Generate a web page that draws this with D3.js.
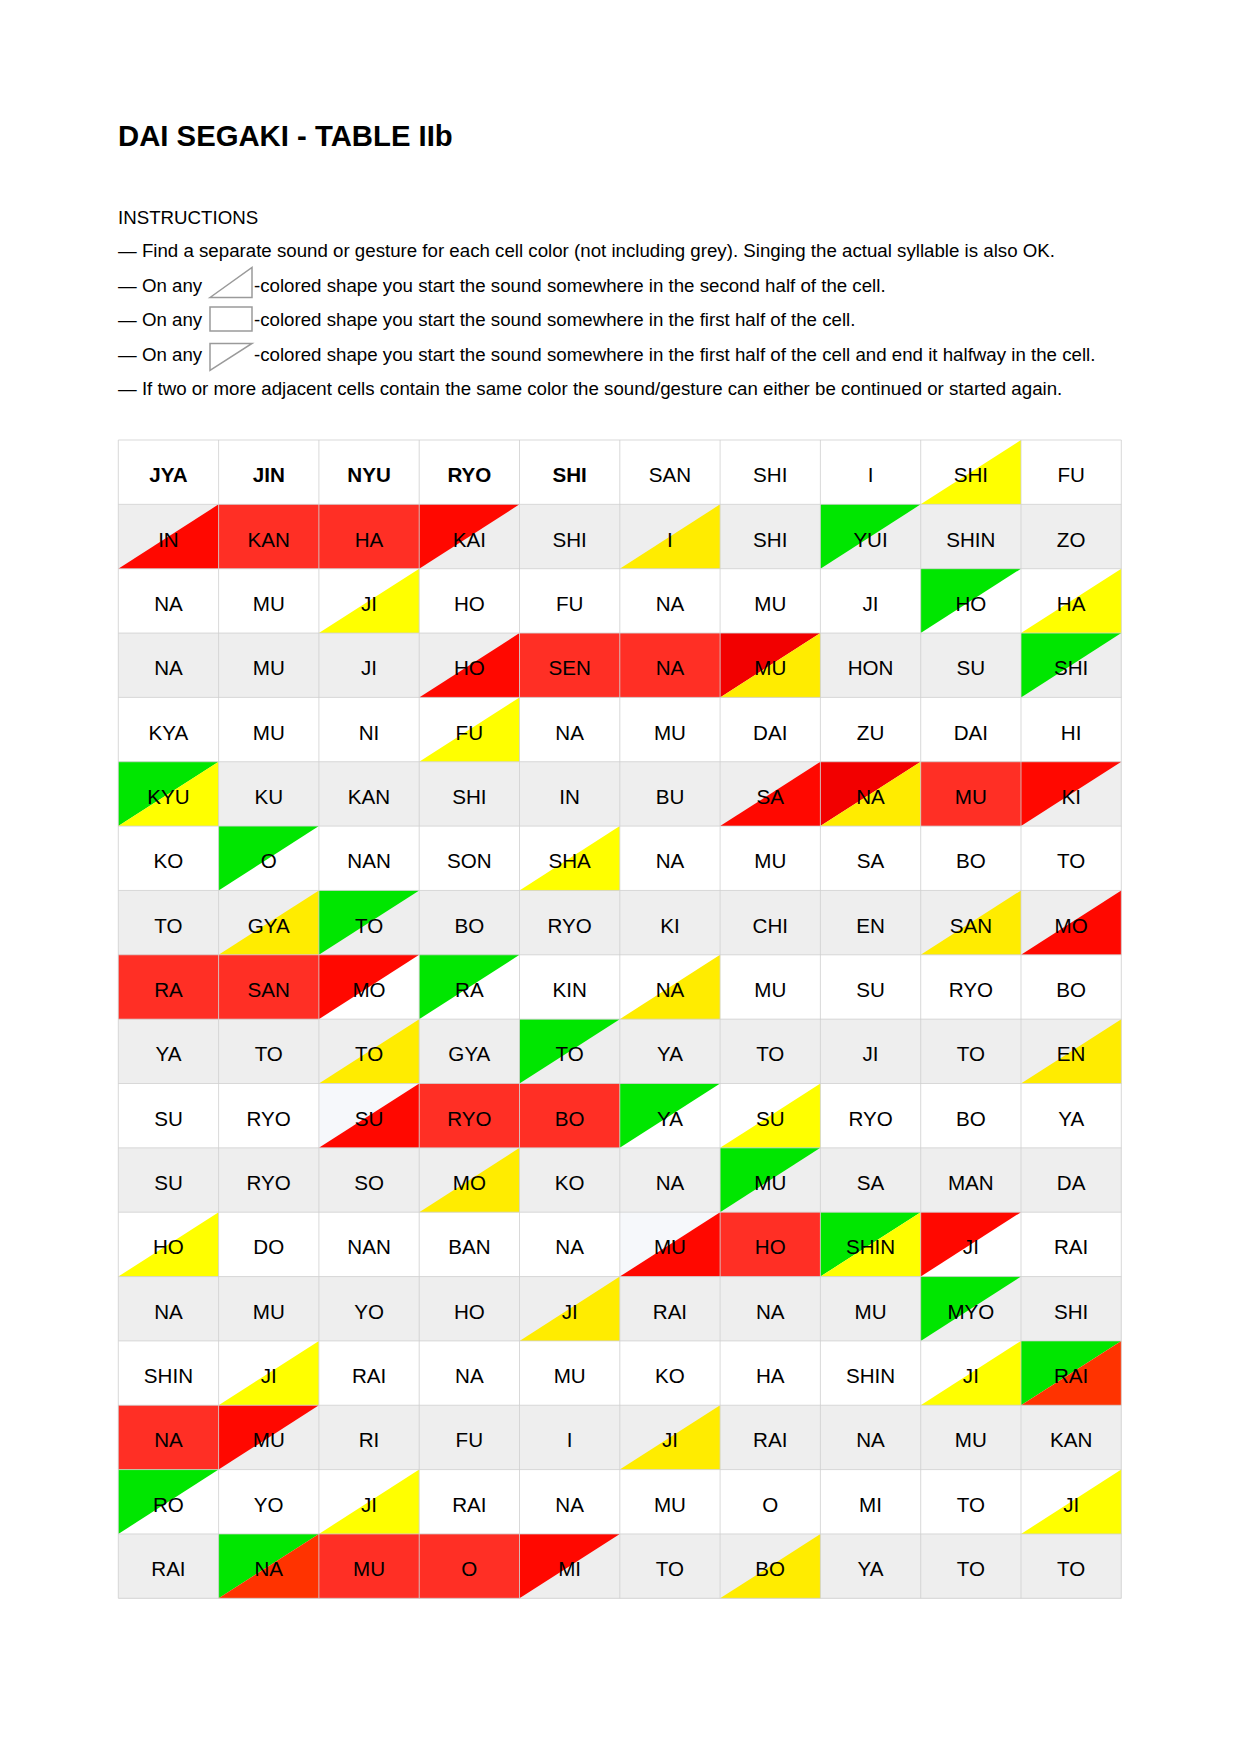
<!DOCTYPE html>
<html>
<head>
<meta charset="utf-8">
<script src="https://cdn.jsdelivr.net/npm/d3@7"></script>
<style>
  html, body { margin: 0; padding: 0; background: #fff; }
  svg { display: block; }
  text { font-family: "Liberation Sans", Arial, Helvetica, sans-serif; }
</style>
</head>
<body>
<script>
// ---------- DATA ----------
const title = "DAI SEGAKI - TABLE IIb";
const instructionsHeading = "INSTRUCTIONS";
const instructionLines = [
  { pre: "— Find a separate sound or gesture for each cell color (not including grey). Singing the actual syllable is also OK.", icon: null, post: "" },
  { pre: "— On any", icon: "lower", post: "-colored shape you start the sound somewhere in the second half of the cell." },
  { pre: "— On any", icon: "full", post: "-colored shape you start the sound somewhere in the first half of the cell." },
  { pre: "— On any", icon: "upper", post: "-colored shape you start the sound somewhere in the first half of the cell and end it halfway in the cell." },
  { pre: "— If two or more adjacent cells contain the same color the sound/gesture can either be continued or started again.", icon: null, post: "" }
];

const syllables = [
  ["JYA","JIN","NYU","RYO","SHI","SAN","SHI","I","SHI","FU"],
  ["IN","KAN","HA","KAI","SHI","I","SHI","YUI","SHIN","ZO"],
  ["NA","MU","JI","HO","FU","NA","MU","JI","HO","HA"],
  ["NA","MU","JI","HO","SEN","NA","MU","HON","SU","SHI"],
  ["KYA","MU","NI","FU","NA","MU","DAI","ZU","DAI","HI"],
  ["KYU","KU","KAN","SHI","IN","BU","SA","NA","MU","KI"],
  ["KO","O","NAN","SON","SHA","NA","MU","SA","BO","TO"],
  ["TO","GYA","TO","BO","RYO","KI","CHI","EN","SAN","MO"],
  ["RA","SAN","MO","RA","KIN","NA","MU","SU","RYO","BO"],
  ["YA","TO","TO","GYA","TO","YA","TO","JI","TO","EN"],
  ["SU","RYO","SU","RYO","BO","YA","SU","RYO","BO","YA"],
  ["SU","RYO","SO","MO","KO","NA","MU","SA","MAN","DA"],
  ["HO","DO","NAN","BAN","NA","MU","HO","SHIN","JI","RAI"],
  ["NA","MU","YO","HO","JI","RAI","NA","MU","MYO","SHI"],
  ["SHIN","JI","RAI","NA","MU","KO","HA","SHIN","JI","RAI"],
  ["NA","MU","RI","FU","I","JI","RAI","NA","MU","KAN"],
  ["RO","YO","JI","RAI","NA","MU","O","MI","TO","JI"],
  ["RAI","NA","MU","O","MI","TO","BO","YA","TO","TO"]
];

// bold header cells (row 0)
const boldHeader = [true,true,true,true,true,false,false,false,false,false];

// colour of the upper-left triangle of each cell ('.' = none)
const upperLeft = [
  "..........",
  ".RRr...G..",
  "........G.",
  "....RRd..G",
  "..........",
  "G......dRr",
  ".G........",
  "..G.......",
  "RRrG......",
  "....G.....",
  "..wRRG....",
  "......G...",
  ".....wRGr.",
  "........G.",
  ".........G",
  "Rr........",
  "G.........",
  ".GRRr....."
];

// colour of the lower-right triangle of each cell ('.' = none)
const lowerRight = [
  "........Y.",
  "rRR..y....",
  "..Y......Y",
  "...rRRy...",
  "...Y......",
  "Y.....ryR.",
  "....Y.....",
  ".y......yr",
  "RR...y....",
  "..y......y",
  "..rRR.Y...",
  "...y......",
  "Y....rRY..",
  "....y.....",
  ".Y......YO",
  "R....y....",
  "..Y......Y",
  ".ORR..y..."
];

const palette = {
  R: "#ff2f25",   // full red cell
  r: "#ff0800",   // red triangle
  d: "#f20000",   // deep red
  Y: "#ffff00",   // yellow
  y: "#ffec00",   // golden yellow
  G: "#00e600",   // green
  O: "#ff3300",   // orange red
  w: "#f6f8fb"    // pale tint
};
const rowBackgrounds = ["#ffffff", "#eeeeee"];

// ---------- DRAW ----------
const W = 1240, H = 1753;
const svg = d3.select("body").append("svg").attr("width", W).attr("height", H);
svg.append("rect").attr("width", W).attr("height", H).attr("fill", "#fff");

// title & instructions
svg.append("text").attr("x", 118).attr("y", 146)
  .attr("font-size", 29.3).attr("font-weight", "bold").attr("fill", "#000")
  .text(title);

const fs = 18.7;
svg.append("text").attr("x", 118).attr("y", 224)
  .attr("font-size", fs).attr("fill", "#000").text(instructionsHeading);

const lineY = d3.scalePoint().domain(d3.range(instructionLines.length)).range([257, 395]);
const iconX0 = 210, iconX1 = 252;
instructionLines.forEach((ln, i) => {
  const y = lineY(i);
  svg.append("text").attr("x", 118).attr("y", y).attr("font-size", fs).attr("fill", "#000").text(ln.pre);
  if (ln.icon) {
    const g = svg.append("g").attr("fill", "none").attr("stroke", "#9a9a9a").attr("stroke-width", 1.5);
    if (ln.icon === "lower") {
      const t = y - 24, b = y + 6;
      g.append("path").attr("d", `M${iconX0},${b}L${iconX1},${t}L${iconX1},${b}Z`);
    } else if (ln.icon === "full") {
      g.append("rect").attr("x", iconX0).attr("y", y - 19).attr("width", iconX1 - iconX0).attr("height", 24);
    } else {
      const t = y - 17, b = y + 10;
      g.append("path").attr("d", `M${iconX0},${t}L${iconX1},${t}L${iconX0},${b}Z`);
    }
    svg.append("text").attr("x", 254).attr("y", y).attr("font-size", fs).attr("fill", "#000").text(ln.post);
  }
});

// table
const nRows = syllables.length, nCols = syllables[0].length;
const x = d3.scaleBand().domain(d3.range(nCols)).range([118.3, 1121.3]).padding(0);
const y = d3.scaleBand().domain(d3.range(nRows)).range([440, 1598.3]).padding(0);
const cw = x.bandwidth(), ch = y.bandwidth();

const cells = [];
for (let r = 0; r < nRows; r++) for (let c = 0; c < nCols; c++) {
  cells.push({ r, c, text: syllables[r][c], ul: upperLeft[r][c], lr: lowerRight[r][c] });
}

const table = svg.append("g");
// row backgrounds
table.selectAll("rect.bg").data(d3.range(nRows)).join("rect")
  .attr("class", "bg")
  .attr("x", x(0)).attr("y", d => y(d))
  .attr("width", cw * nCols).attr("height", ch + 0.5)
  .attr("fill", d => rowBackgrounds[d % 2]);

// fills
const fills = table.append("g");
cells.forEach(d => {
  const x0 = x(d.c), y0 = y(d.r), x1 = x0 + cw, y1 = y0 + ch;
  if (d.ul !== "." && d.ul === d.lr) {
    fills.append("rect").attr("x", x0).attr("y", y0).attr("width", cw).attr("height", ch)
      .attr("fill", palette[d.ul]);
    return;
  }
  if (d.ul !== ".") {
    fills.append("path").attr("d", `M${x0},${y0}L${x1},${y0}L${x0},${y1}Z`).attr("fill", palette[d.ul]);
  }
  if (d.lr !== ".") {
    fills.append("path").attr("d", `M${x1},${y0}L${x1},${y1}L${x0},${y1}Z`).attr("fill", palette[d.lr]);
  }
});

// grid lines
const grid = table.append("g").attr("stroke", "#cfcfcf").attr("stroke-opacity", 0.8).attr("stroke-width", 1);
d3.range(nCols + 1).forEach(i => {
  const xx = i < nCols ? x(i) : x(nCols - 1) + cw;
  grid.append("line").attr("x1", xx).attr("x2", xx).attr("y1", y(0)).attr("y2", y(nRows - 1) + ch);
});
d3.range(nRows + 1).forEach(i => {
  const yy = i < nRows ? y(i) : y(nRows - 1) + ch;
  grid.append("line").attr("x1", x(0)).attr("x2", x(nCols - 1) + cw).attr("y1", yy).attr("y2", yy);
});

// labels
table.append("g").selectAll("text").data(cells).join("text")
  .attr("x", d => x(d.c) + cw / 2)
  .attr("y", d => y(d.r) + ch / 2 + 10)
  .attr("text-anchor", "middle")
  .attr("font-size", 20.6)
  .attr("font-weight", d => (d.r === 0 && boldHeader[d.c]) ? "bold" : "normal")
  .attr("fill", "#000")
  .text(d => d.text);
</script>
</body>
</html>
